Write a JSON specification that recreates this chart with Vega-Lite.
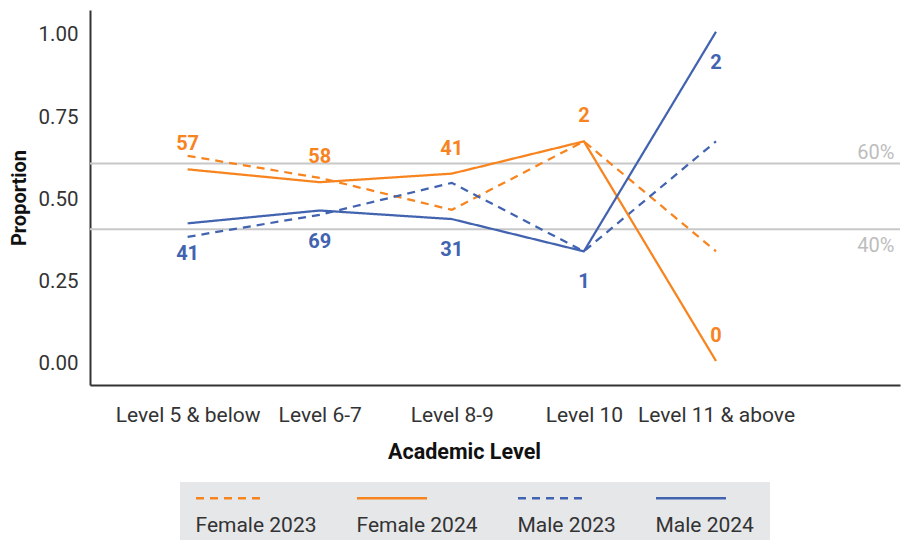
{
  "$schema": "https://vega.github.io/schema/vega-lite/v6.json",
  "width": 810,
  "height": 375,
  "autosize": "none",
  "padding": {"left": 90, "top": 10, "right": 6, "bottom": 155},
  "background": "white",
  "config": {
    "font": "Roboto",
    "view": {"stroke": null},
    "axis": {"grid": false}
  },
  "datasets": {
    "lines": [
      {"level": "Level 5 & below", "pos": 1, "series": "Female 2023", "value": 0.623, "n": null},
      {"level": "Level 6-7", "pos": 2, "series": "Female 2023", "value": 0.556, "n": null},
      {"level": "Level 8-9", "pos": 3, "series": "Female 2023", "value": 0.459, "n": null},
      {"level": "Level 10", "pos": 4, "series": "Female 2023", "value": 0.667, "n": null},
      {"level": "Level 11 & above", "pos": 5, "series": "Female 2023", "value": 0.333, "n": null},
      {"level": "Level 5 & below", "pos": 1, "series": "Male 2023", "value": 0.377, "n": null},
      {"level": "Level 6-7", "pos": 2, "series": "Male 2023", "value": 0.444, "n": null},
      {"level": "Level 8-9", "pos": 3, "series": "Male 2023", "value": 0.541, "n": null},
      {"level": "Level 10", "pos": 4, "series": "Male 2023", "value": 0.333, "n": null},
      {"level": "Level 11 & above", "pos": 5, "series": "Male 2023", "value": 0.667, "n": null},
      {"level": "Level 5 & below", "pos": 1, "series": "Female 2024", "value": 0.582, "n": 57},
      {"level": "Level 6-7", "pos": 2, "series": "Female 2024", "value": 0.543, "n": 58},
      {"level": "Level 8-9", "pos": 3, "series": "Female 2024", "value": 0.569, "n": 41},
      {"level": "Level 10", "pos": 4, "series": "Female 2024", "value": 0.667, "n": 2},
      {"level": "Level 11 & above", "pos": 5, "series": "Female 2024", "value": 0.0, "n": 0},
      {"level": "Level 5 & below", "pos": 1, "series": "Male 2024", "value": 0.418, "n": 41},
      {"level": "Level 6-7", "pos": 2, "series": "Male 2024", "value": 0.457, "n": 69},
      {"level": "Level 8-9", "pos": 3, "series": "Male 2024", "value": 0.431, "n": 31},
      {"level": "Level 10", "pos": 4, "series": "Male 2024", "value": 0.333, "n": 1},
      {"level": "Level 11 & above", "pos": 5, "series": "Male 2024", "value": 1.0, "n": 2}
    ],
    "refs": [
      {"value": 0.6, "label": "60%"},
      {"value": 0.4, "label": "40%"}
    ]
  },
  "layer": [
    {
      "data": {"name": "refs"},
      "mark": {"type": "rule", "color": "#C8C8C8", "strokeWidth": 2},
      "encoding": {
        "y": {
          "field": "value", "type": "quantitative",
          "scale": {"domain": [-0.073, 1.066]},
          "axis": {
            "values": [0, 0.25, 0.5, 0.75, 1],
            "format": ".2f",
            "title": "Proportion",
            "titleFontSize": 20, "titleFontWeight": "bold", "titleColor": "#111111",
            "titlePadding": 9,
            "labelFontSize": 20.5, "labelColor": "#333333", "labelPadding": 12, "labelOffset": 3,
            "ticks": false, "domainColor": "#333333", "domainWidth": 2
          }
        }
      }
    },
    {
      "data": {"name": "lines"},
      "mark": {"type": "line", "strokeWidth": 2.25},
      "encoding": {
        "x": {
          "field": "pos", "type": "quantitative",
          "scale": {"domain": [0.261, 6.393]},
          "axis": {
            "values": [1, 2, 3, 4, 5],
            "labelExpr": "['Level 5 & below','Level 6-7','Level 8-9','Level 10','Level 11 & above'][datum.value - 1]",
            "title": "Academic Level",
            "titleFontSize": 21.5, "titleFontWeight": "bold", "titleColor": "#111111",
            "titleX": 374, "titlePadding": 16,
            "labelFontSize": 21, "labelColor": "#333333", "labelPadding": 19,
            "labelFlush": false, "labelOverlap": false, "labelBound": false,
            "ticks": false, "domainColor": "#333333", "domainWidth": 2
          }
        },
        "y": {
          "field": "value", "type": "quantitative",
          "scale": {"domain": [-0.073, 1.066]},
          "axis": {
            "values": [0, 0.25, 0.5, 0.75, 1],
            "format": ".2f",
            "title": "Proportion",
            "titleFontSize": 20, "titleFontWeight": "bold", "titleColor": "#111111",
            "titlePadding": 9,
            "labelFontSize": 20.5, "labelColor": "#333333", "labelPadding": 12, "labelOffset": 3,
            "ticks": false, "domainColor": "#333333", "domainWidth": 2
          }
        },
        "color": {
          "field": "series", "type": "nominal",
          "scale": {"domain": ["Female 2023", "Female 2024", "Male 2023", "Male 2024"], "range": ["#F7841F", "#F7841F", "#4263AF", "#4263AF"]},
          "legend": {
            "title": null, "orient": "none", "legendX": 90, "legendY": 472,
            "direction": "horizontal", "columns": 4, "columnPadding": 35,
            "fillColor": "#E6E7E9", "padding": 16,
            "symbolType": "M-3.5,0H3.5", "symbolSize": 400, "symbolStrokeWidth": 2.5,
            "symbolOffset": 23.5, "labelOffset": -47,
            "labelFontSize": 21, "labelColor": "#333333",
            "encoding": {"labels": {"dy": {"value": 16}}, "symbols": {"y": {"value": 0}}}
          }
        },
        "strokeDash": {
          "field": "series", "type": "nominal",
          "scale": {"domain": ["Female 2023", "Female 2024", "Male 2023", "Male 2024"], "range": [[8, 6], [1, 0], [8, 6], [1, 0]]},
          "legend": {
            "title": null, "orient": "none", "legendX": 90, "legendY": 472,
            "direction": "horizontal", "columns": 4, "columnPadding": 35,
            "fillColor": "#E6E7E9", "padding": 16,
            "symbolType": "M-3.5,0H3.5", "symbolSize": 400, "symbolStrokeWidth": 2.5,
            "symbolOffset": 23.5, "labelOffset": -47,
            "labelFontSize": 21, "labelColor": "#333333",
            "encoding": {"labels": {"dy": {"value": 16}}, "symbols": {"y": {"value": 0}}}
          }
        }
      }
    },
    {
      "data": {"name": "refs"},
      "transform": [{"filter": "datum.value > 0.5"}],
      "mark": {"type": "text", "color": "#BDBDBD", "fontSize": 20, "align": "right", "baseline": "alphabetic", "dy": -4},
      "encoding": {
        "x": {"datum": 6.35, "type": "quantitative", "scale": {"domain": [0.261, 6.393]}},
        "y": {"field": "value", "type": "quantitative", "scale": {"domain": [-0.073, 1.066]}},
        "text": {"field": "label"}
      }
    },
    {
      "data": {"name": "refs"},
      "transform": [{"filter": "datum.value < 0.5"}],
      "mark": {"type": "text", "color": "#BDBDBD", "fontSize": 20, "align": "right", "baseline": "alphabetic", "dy": 23},
      "encoding": {
        "x": {"datum": 6.35, "type": "quantitative", "scale": {"domain": [0.261, 6.393]}},
        "y": {"field": "value", "type": "quantitative", "scale": {"domain": [-0.073, 1.066]}},
        "text": {"field": "label"}
      }
    },
    {
      "data": {"name": "lines"},
      "transform": [{"filter": "datum.series === 'Female 2024'"}],
      "mark": {"type": "text", "color": "#F7841F", "fontSize": 20, "fontWeight": "bold", "dy": -25},
      "encoding": {
        "x": {"field": "pos", "type": "quantitative", "scale": {"domain": [0.261, 6.393]}},
        "y": {"field": "value", "type": "quantitative", "scale": {"domain": [-0.073, 1.066]}},
        "text": {"field": "n"}
      }
    },
    {
      "data": {"name": "lines"},
      "transform": [{"filter": "datum.series === 'Male 2024'"}],
      "mark": {"type": "text", "color": "#4263AF", "fontSize": 20, "fontWeight": "bold", "dy": 31},
      "encoding": {
        "x": {"field": "pos", "type": "quantitative", "scale": {"domain": [0.261, 6.393]}},
        "y": {"field": "value", "type": "quantitative", "scale": {"domain": [-0.073, 1.066]}},
        "text": {"field": "n"}
      }
    }
  ]
}
